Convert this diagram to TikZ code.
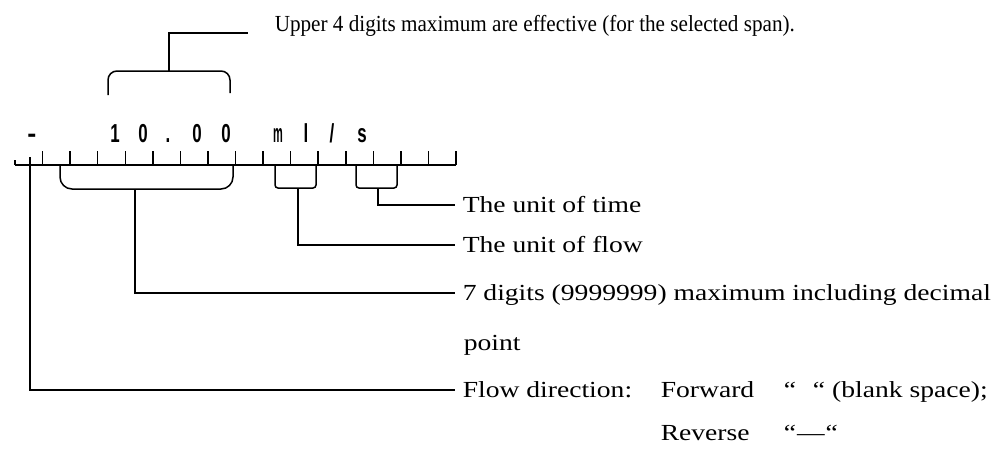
\documentclass[tikz,border=0pt]{standalone}
\usepackage{fontspec}
\setmainfont{Liberation Serif}[FakeStretch=1.2]
\newfontfamily\lcdfont{Liberation Sans}[FakeStretch=0.65]
\newfontfamily\topfont{Liberation Serif}[FakeStretch=0.92]
\begin{document}
\begin{tikzpicture}[x=1pt,y=-1pt,line width=1.5pt,
  txt/.style={font=\fontsize{23}{27}\selectfont, inner sep=0pt},
  lbl/.style={txt, anchor=west, inner xsep=7pt, text height=15pt, text depth=0pt},
  free/.style={txt, anchor=base west},
  dig/.style={font=\lcdfont\bfseries\fontsize{26}{26}\selectfont, anchor=base, inner sep=0pt},
  brk/.style={rounded corners=#1},
  brk/.default=3pt]
\useasboundingbox (0,0) rectangle (1007,455);

% display characters
\node[dig] (c0) at (32,142) {\scalebox{1.6}[1]{-}};
\node[dig] (c3) at (115,142) {1};
\node[dig] (c4) at (143,142) {0};
\node[dig] (c5) at (168,142) {.};
\node[dig] (c6) at (197,142) {0};
\node[dig] (c7) at (226,142) {0};
\node[dig] (c9) at (278,142) {\scalebox{0.65}[1]{m}};
\node[dig] (c10) at (306,142) {l};
\node[dig] (c11) at (332,142) {/};
\node[dig] (c12) at (362,142) {s};

% scale
\draw (15,165) -- (456,165);
\draw (15,160) -- (15,165);
\foreach \i in {1,...,16} \draw (15+27.5625*\i,151) -- ++(0,14);

% labels
\node[free, font=\topfont\fontsize{23}{27}\selectfont] (upper) at (274,31) {Upper 4 digits maximum are effective (for the selected span).};
\node[lbl] (time) at (455,205) {The unit of time};
\node[lbl] (flow) at (455,245) {The unit of flow};
\node[lbl] (digits) at (455,293) {7 digits (9999999) maximum including decimal};
\node[free] (point) at (463,350) {point};
\node[lbl] (dir) at (455,390) {Flow direction:};
\node[free] (fwd) at (660,397.5) {Forward};
\node[free] (fwdq) at (783,397.5) {“\hspace{17pt}“ (blank space);};
\node[free] (rev) at (660,440.5) {Reverse};
\node[free] (revq) at (783,440.5) {“\kern1pt—\kern1pt“};

% upper bracket
\coordinate (ue) at (248,33);
\coordinate (ut) at (169,71);
\draw[brk=9pt] (108,95) -- (108,71) -- (230,71) -- (230,93);
\draw (ut) |- (ue);

% 7-digit bracket
\coordinate (db) at (135,189);
\draw[brk=12pt] (60,165) -- (60,189) -- (233,189) -- (233,165);
\draw (db) |- (digits.west);

% unit of flow bracket
\coordinate (fb) at (298,188);
\draw[brk] (275,165) -- (275,188) -- (316,188) -- (316,165);
\draw (fb) |- (flow.west);

% unit of time bracket
\coordinate (tb) at (378,188);
\draw[brk] (356,165) -- (356,188) -- (397,188) -- (397,165);
\draw (tb) |- (time.west);

% flow direction
\coordinate (sg) at (30,157);
\draw (sg) |- (dir.west);
\end{tikzpicture}
\end{document}
